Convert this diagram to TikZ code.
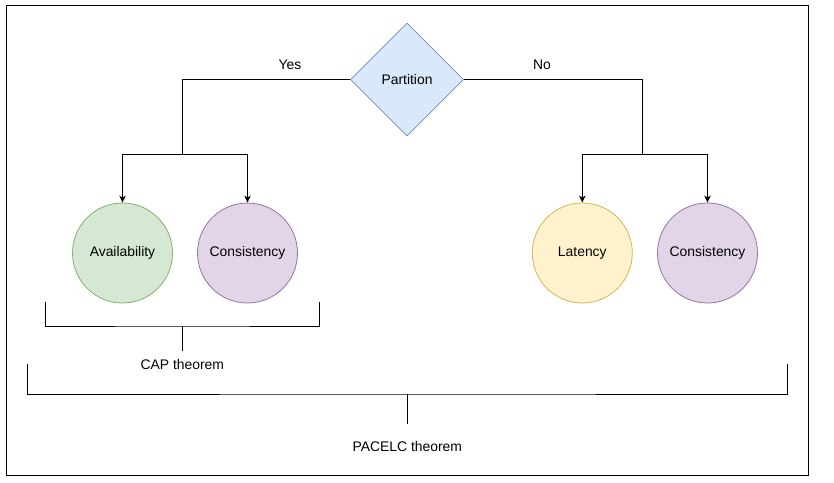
\documentclass[tikz,border=0pt]{standalone}
\usepackage{fontspec}
\setmainfont{Liberation Sans}
\usetikzlibrary{shapes.geometric,arrows.meta}
\definecolor{bluefill}{HTML}{DAE8FC}
\definecolor{bluedraw}{HTML}{6C8EBF}
\definecolor{greenfill}{HTML}{D5E8D4}
\definecolor{greendraw}{HTML}{82B366}
\definecolor{purplefill}{HTML}{E1D5E7}
\definecolor{purpledraw}{HTML}{9673A6}
\definecolor{yellowfill}{HTML}{FFF2CC}
\definecolor{yellowdraw}{HTML}{D6B656}
\tikzset{
  txt/.style={font=\fontsize{13.9}{16}\selectfont, inner sep=0pt},
  circ/.style={circle, draw, line width=0.8pt, minimum size=100pt, inner sep=0pt, txt},
  conn/.style={draw=black, line width=1pt},
  arr/.style={conn, -{Stealth[length=7pt,width=6.5pt,inset=2pt]}},
}
\begin{document}
\begin{tikzpicture}[x=1pt,y=-1pt]
\useasboundingbox (0,0) rectangle (834,482);
\node[draw, line width=1pt, minimum width=802pt, minimum height=470pt, inner sep=0pt, anchor=north west] (frame) at (5.5,4.7) {};
\node[diamond, draw=bluedraw, fill=bluefill, line width=0.8pt, minimum width=113pt, minimum height=113pt, inner sep=0pt, txt] (part) at (407,79.5) {\raisebox{-1.5pt}{Partition}};
\node[circ, draw=greendraw, fill=greenfill] (avail) at (122.5,253) {\raisebox{-1.5pt}{Availability}};
\node[circ, draw=purpledraw, fill=purplefill] (cons1) at (247.5,253) {\raisebox{-1.5pt}{Consistency}};
\node[circ, draw=yellowdraw, fill=yellowfill] (lat) at (582.3,253) {\raisebox{-1.5pt}{Latency}};
\node[circ, draw=purpledraw, fill=purplefill] (cons2) at (707.5,253) {\raisebox{-1.5pt}{Consistency}};
\node[txt] (yes) at (290,64.5) {Yes};
\node[txt] (no) at (542,64.5) {No};
\coordinate (jl) at (182.3,154.3);
\coordinate (jr) at (642.3,154.3);
\draw[arr] (part.west) -| (jl) -| (avail.north);
\draw[arr] (jl) -| (cons1.north);
\draw[arr] (part.east) -| (jr) -| (lat.north);
\draw[arr] (jr) -| (cons2.north);
% CAP bracket
\coordinate (capl) at (45.3,301.7);
\coordinate (capr) at (319.3,301.7);
\coordinate (capm) at (182.3,326);
\coordinate (caps) at (182.3,351);
\node[txt] (cap) at (182.3,365) {CAP theorem};
\draw[conn] (capl) |- (capm) -| (capr);
\draw[conn] (capm) -- (caps);
% PACELC bracket
\coordinate (pl) at (27.3,364.3);
\coordinate (pr) at (787.3,364.3);
\coordinate (pm) at (407.6,394);
\coordinate (ps) at (407.6,424);
\node[txt] (pacelc) at (407.3,446.7) {PACELC theorem};
\draw[conn] (pl) |- (pm) -| (pr);
\draw[conn] (pm) -- (ps);
\end{tikzpicture}
\end{document}
